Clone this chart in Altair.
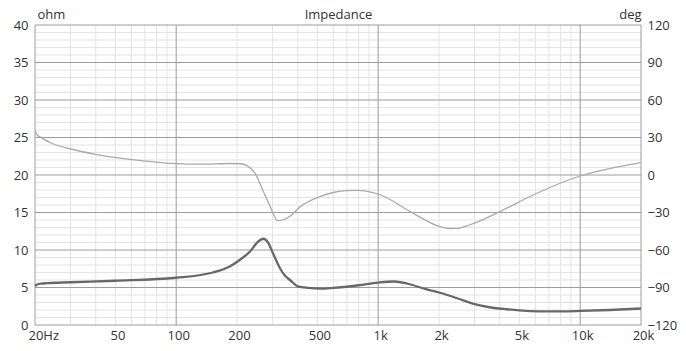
import altair as alt
import pandas as pd

# Impedance magnitude (ohm) vs frequency (Hz)
imp_freq = [20, 20.5, 21.5, 23, 30, 50, 100, 152, 184, 207, 232, 254, 270, 285, 301,
            326, 345, 366, 400, 450, 514, 600, 800, 1000, 1200, 1400, 1740, 2020, 2500,
            2940, 3500, 4340, 5000, 6320, 8000, 10000, 14000, 20000]
imp_ohm = [5.2, 5.4, 5.52, 5.58, 5.7, 5.9, 6.3, 7.0, 7.8, 8.7, 9.8, 11.1, 11.5, 11.0, 9.6,
           7.6, 6.6, 6.0, 5.15, 4.95, 4.85, 4.95, 5.3, 5.65, 5.8, 5.5, 4.75, 4.3, 3.5,
           2.85, 2.4, 2.1, 1.95, 1.83, 1.82, 1.87, 2.0, 2.2]

# Phase (deg) vs frequency (Hz)
ph_freq = [20, 20.5, 21.2, 23.7, 29.8, 40, 59, 100, 131, 184, 207, 224, 246, 268, 292,
           318, 340, 366, 410, 514, 600, 700, 800, 940, 1030, 1440, 2020, 2260, 2440,
           2820, 4000, 5840, 10000, 14140, 20000]
ph_deg = [35, 32, 30.5, 26, 21, 16.5, 12.5, 9.1, 8.7, 9.2, 9.0, 7.5, 1.3, -12, -25.3,
          -36.5, -35.8, -33, -25.5, -17.3, -14, -12.5, -12.3, -14.1, -16, -29.3, -41.3, -42.8, -42.7,
          -40, -29.3, -16, -0.8, 5.3, 9.9]

# Grid lines and tick labels
minor_x = [30, 40, 50, 60, 70, 80, 90,
           200, 300, 400, 500, 600, 700, 800, 900,
           2000, 3000, 4000, 5000, 6000, 7000, 8000, 9000]
major_x = [20, 100, 1000, 10000, 20000]
minor_ohm = [v for v in range(0, 41) if v % 5 != 0]
major_ohm = [0, 5, 10, 15, 20, 25, 30, 35, 40]
x_label_values = [20, 50, 100, 200, 500, 1000, 2000, 5000, 10000, 20000]
x_label_texts = ["20Hz", "50", "100", "200", "500", "1k", "2k", "5k", "10k", "20k"]
deg_ticks = [-120, -90, -60, -30, 0, 30, 60, 90, 120]

imp_df = pd.DataFrame({"freq": imp_freq, "ohm": imp_ohm})
ph_df = pd.DataFrame({"freq": ph_freq, "deg": ph_deg})

label_expr = "".join(f"datum.value == {v} ? '{t}' : " for v, t in zip(x_label_values, x_label_texts)) + "''"

MAJOR = "#9c9c9c"
MINOR = "#e3e3e3"
TXT = "#333333"
FONT = "Open Sans"

xscale = alt.Scale(type="log", domain=[20, 20000], nice=False)
ohm_scale = alt.Scale(domain=[0, 40], nice=False, zero=False)


def vrules(vals, color):
    return alt.Chart(pd.DataFrame({"freq": vals})).mark_rule(color=color, strokeWidth=1).encode(
        x=alt.X("freq:Q", scale=xscale, axis=None))


def hrules(vals, color):
    return alt.Chart(pd.DataFrame({"ohm": vals})).mark_rule(color=color, strokeWidth=1).encode(
        y=alt.Y("ohm:Q", scale=ohm_scale, axis=None))


imp = alt.Chart(imp_df).mark_line(color="#686868", strokeWidth=2.3, interpolate="monotone").encode(
    x=alt.X("freq:Q", scale=xscale,
            axis=alt.Axis(orient="bottom", values=x_label_values, labelExpr=label_expr, title=None,
                          ticks=False, domain=False, grid=False,
                          labelPadding=4, labelFlush=False, labelOverlap=False,
                          labelAlign={"condition": {"test": "datum.value == 20", "value": "left"}, "value": "center"},
                          labelOffset={"condition": {"test": "datum.value == 20", "value": -7}, "value": 2})),
    y=alt.Y("ohm:Q", scale=ohm_scale,
            axis=alt.Axis(orient="left", values=major_ohm,
                          ticks=False, domain=False, grid=False,
                          labelPadding=7, labelOverlap=False,
                          title="ohm", titleAngle=0, titleAlign="left", titleX=2, titleY=-7,
                          titleBaseline="alphabetic")),
)

ph = alt.Chart(ph_df).mark_line(color="#aaaaaa", strokeWidth=1.3, interpolate="monotone").encode(
    x=alt.X("freq:Q", scale=xscale,
            axis=alt.Axis(orient="top", labels=False, ticks=False, domain=False, grid=False,
                          title="Impedance", titleY=-7, titleBaseline="alphabetic")),
    y=alt.Y("deg:Q", scale=alt.Scale(domain=[-120, 120], nice=False, zero=False),
            axis=alt.Axis(orient="right", values=deg_ticks, ticks=False, domain=False,
                          grid=False, labelPadding=6, labelOverlap=False,
                          title="deg", titleAngle=0, titleAlign="right", titleX=0, titleY=-7,
                          titleBaseline="alphabetic")),
)

chart = alt.layer(
    hrules(minor_ohm, MINOR), vrules(minor_x, MINOR),
    hrules(major_ohm, MAJOR), vrules(major_x, MAJOR),
    imp, ph,
).resolve_scale(y="independent").resolve_axis(x="independent").properties(
    width=606, height=300,
    autosize=alt.AutoSizeParams(type="none"),
    padding={"left": 35, "top": 25, "right": 45, "bottom": 26},
    background="white",
).configure_view(stroke=None).configure_axis(
    labelFont=FONT, labelFontSize=13, labelColor=TXT,
    titleFont=FONT, titleFontSize=13, titleColor=TXT, titleFontWeight="normal",
)

chart.save("out.html", embed_options={"renderer": "svg", "actions": False})
